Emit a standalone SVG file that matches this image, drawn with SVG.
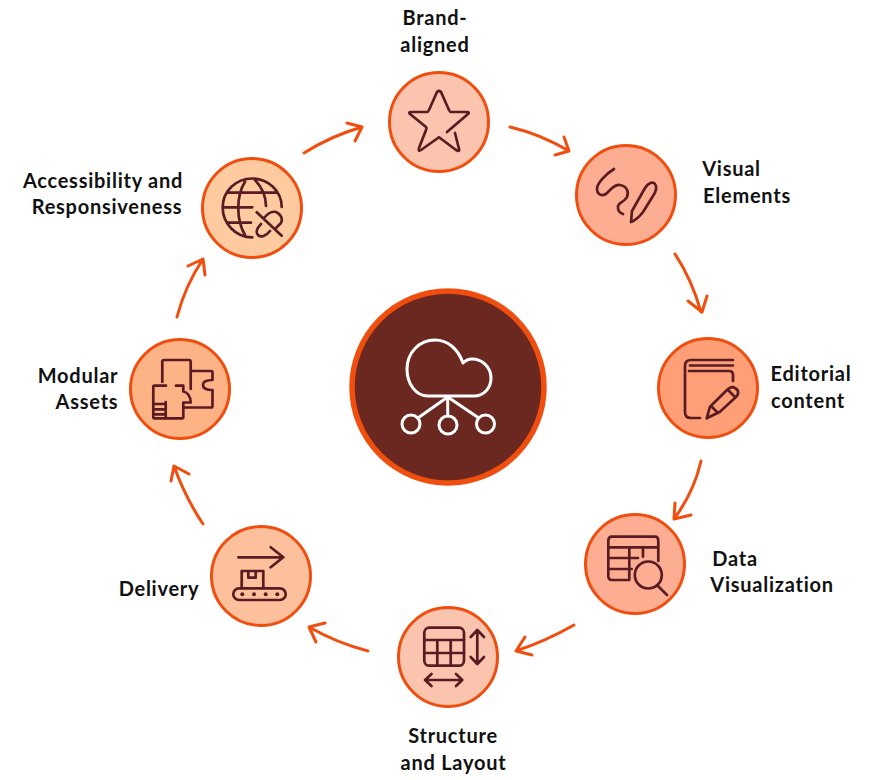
<svg xmlns="http://www.w3.org/2000/svg" width="889" height="780" viewBox="0 0 889 780">
<style>
.c{stroke:#f04e0f;stroke-width:3}
.i{fill:none;stroke:#5a1c22;stroke-width:2.7;stroke-linecap:round;stroke-linejoin:round}
.w{fill:none;stroke:#fff;stroke-width:3;stroke-linecap:round;stroke-linejoin:round}
.a{fill:none;stroke:#f04e0f;stroke-width:3;stroke-linecap:round;stroke-linejoin:round}
text{font-family:"Lato","Noto Sans",sans-serif;font-size:20px;font-weight:700;fill:#111;text-anchor:middle;letter-spacing:.75px}
</style>
<rect width="889" height="780" fill="#fff"/>
<g id="connectors">
<path class="a" d="M510 127Q540 134 569 151M555 155L569 151L564 137"/>
<path class="a" d="M675 254Q692 280 701 312M688 301L702 312L707 296"/>
<path class="a" d="M701 461Q694 492 674 519M675 503L674 519L691 515"/>
<path class="a" d="M574 625Q546 641 516 651M525 637L516 651L532 655"/>
<path class="a" d="M368 651Q337 643 309 627M325 623L309 627L316 642"/>
<path class="a" d="M203 524Q185 497 174 466M171 481L174 466L189 474"/>
<path class="a" d="M177 317Q185 286 203 259M188 266L203 259L205 275"/>
<path class="a" d="M304 153Q331 136 362 127M347 123L362 127L355 141"/>
</g>
<g id="center"><circle cx="448" cy="387" r="96" fill="#6a2820" stroke="#f04e0f" stroke-width="5.500"/>
<path class="w" d="M428 396H474C484 396 491 388 491 378C491 367 482 359 472 359C469 359 465 361 463 363C458 349 448 340 435 340C419 340 407 353 407 369C407 384 416 396 428 396Z"/>
<path class="w" d="M447.700 397V415M447.700 397L419.300 417M447.700 397L477.300 417"/><circle class="w" cx="411" cy="424" r="9"/><circle class="w" cx="448" cy="425" r="9"/><circle class="w" cx="485.500" cy="424" r="9"/></g>
<g id="brand"><circle class="c" cx="439" cy="122" r="49.500" fill="#fbc4ae"/>
<path class="i" d="M447 132L468 114Q470 112 467 112H451Q450 112 449 110L441 92Q439 90 437 92L429 110Q428 112 427 112H411Q408 112 410 114L426 127Q427 128 426 130L419 148Q418 152 421 150L438 138Q439 137 440 138L456 150Q460 152 459 149L455 133"/>
<text x="435" y="25">Brand-</text><text x="435" y="51.500">aligned</text></g>
<g id="visual"><circle class="c" cx="626" cy="195" r="49.500" fill="#fdae92"/>
<path class="i" d="M614 169C606 174 597 183 597 189C597 195 603 197 607 193C611 189 615 184 620 185C627 186 629 192 627 197C624 203 617 202 618 208C618 211 620 213 623 214"/>
<path class="i" d="M631 222L632 211L645 188C648 183 653 181 655 184C658 188 655 193 653 196L643 212C640 216 636 220 631 222Z"/>
<text x="731.500" y="176">Visual</text><text x="747" y="202.500">Elements</text></g>
<g id="editorial"><circle class="c" cx="708" cy="388" r="49.500" fill="#fe9f78"/>
<path class="i" d="M733 360H691Q685 360 685 366V412Q685 418 691 418H700M733 365.500H690M689 371H729Q733 371 733 375V381M706.700 418.300L710 406.700L728 389Q732 386 735 388Q740 391 737 396L720 411.700ZM712 407L718 413M728 390L735 397"/>
<text x="811" y="381">Editorial</text><text x="808" y="407.500">content</text></g>
<g id="data"><circle class="c" cx="635" cy="564" r="49.500" fill="#fdae92"/>
<path class="i" d="M629 580H612Q608.300 580 608.300 576V541Q608.300 536.700 612 536.700H655Q658.300 536.700 658.300 541V561M608.300 547.300H658.300M608.300 558H638M608.300 569H631.700M629.300 547.300V580M643 547.300V556.700"/><circle class="i" cx="648.300" cy="575" r="13.500"/><path class="i" d="M658 586L667 595"/>
<text x="735" y="565.500">Data</text><text x="772" y="591.500">Visualization</text></g>
<g id="structure"><circle class="c" cx="448" cy="657" r="49.500" fill="#fbc4ae"/>
<rect class="i" x="424.300" y="627.700" width="39.700" height="38" rx="5"/>
<path class="i" d="M424.300 640H464M424.300 653H464M437.300 640V665.700M450.700 640V665.700M477.300 630V664M470.700 637L477.300 630L484 637M470.700 657L477.300 664L484 657M425 680H462.300M431.500 674L425 680L431.500 686M456 674L462.300 680L456 686"/>
<text x="453" y="743">Structure</text><text x="453.500" y="770">and Layout</text></g>
<g id="delivery"><circle class="c" cx="261" cy="576" r="49.500" fill="#fdc09c"/>
<path class="i" d="M238.300 557.300H283.300M270.700 547.300L283.300 557.300L270.700 567.300M241.700 588V571H263.300V588M248.300 571V577.700H255.700V571"/><rect class="i" x="233.300" y="588.300" width="52.400" height="11.700" rx="5.800"/><circle cx="242.300" cy="594.300" r="2" fill="#5a1c22"/><circle cx="254" cy="594.300" r="2" fill="#5a1c22"/><circle cx="265.700" cy="594.300" r="2" fill="#5a1c22"/><circle cx="277.300" cy="594.300" r="2" fill="#5a1c22"/>
<text x="159" y="595.500">Delivery</text></g>
<g id="modular"><circle class="c" cx="180" cy="389" r="49.500" fill="#feb387"/>
<path class="i" d="M162.300 382V361.500Q162.300 360 164 360H189Q190.700 360 190.700 362V389M190.700 371H211Q212.500 371 212.500 372.500V380C206 380 203 382 203 385C203 388 206 390 212.500 390V406Q212.500 407.500 211 407.500H184M166 385.700H154.500Q153.300 385.700 153.300 387V417Q153.300 418.300 154.500 418.300H182Q183.300 418.300 183.300 417V402.500H190.700C190.700 396 187 392 183.300 391.500V385.700H176M153.300 404H165.700M153.300 409.300H165.700M153.300 414.300H165.700M165.700 402V418.300"/>
<text x="78" y="382.500">Modular</text><text x="87" y="408.500">Assets</text></g>
<g id="access"><circle class="c" cx="252" cy="208" r="49.500" fill="#fecba0"/>
<path class="i" d="M252.300 237.300C235 237.300 222.700 223 222.700 207.500C222.700 191 236 178.500 252.300 178.500C268 178.500 281.700 191 281.700 207M226.700 192.700H277.300M222.700 207.300H252.300M228 222.700H251M245 181.700C236 196 236 220 245 235M254 179C262 187 266 196 266 206M256.700 212.300L281.700 235.700M264 218C268 213 272 211 276 212C281 214 283 219 281 223L276 228M261 224C256 229 256 233 258 235C261 238 266 236 270 231"/>
<text x="103" y="187.500">Accessibility and</text><text x="107" y="213.500">Responsiveness</text></g>
</svg>
